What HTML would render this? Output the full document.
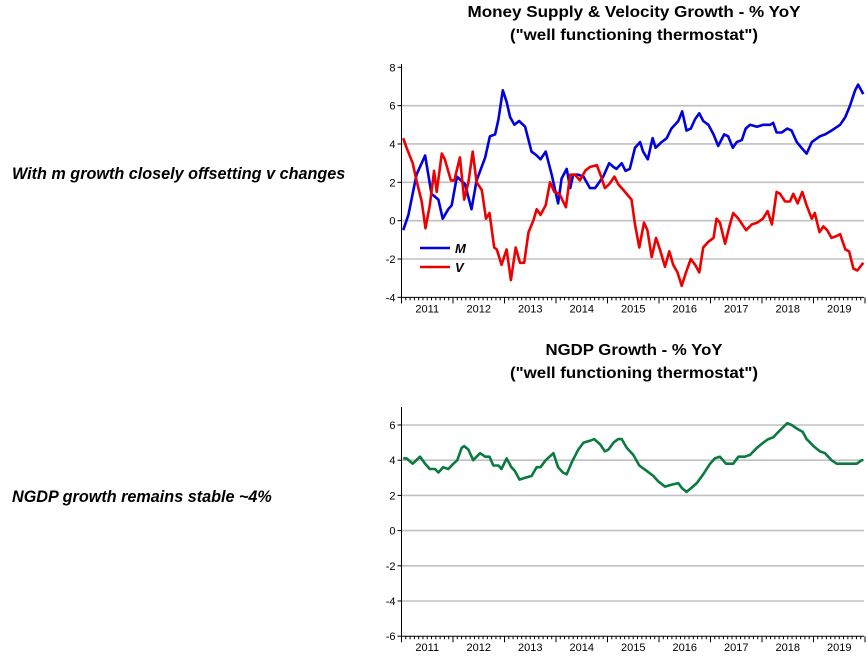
<!DOCTYPE html>
<html><head><meta charset="utf-8">
<style>
body{margin:0;background:#fff;width:868px;height:657px;overflow:hidden;font-family:"Liberation Sans",Arial,sans-serif}
svg{display:block}
</style></head>
<body>
<svg id="svg" width="868" height="657" viewBox="0 0 868 657" xmlns="http://www.w3.org/2000/svg">
<g font-family="Liberation Sans, Arial, sans-serif" font-weight="bold" font-size="15.5" text-anchor="middle" fill="#000">
<text x="634" y="17" textLength="333" lengthAdjust="spacingAndGlyphs">Money Supply &amp; Velocity Growth - % YoY</text>
<text x="634" y="40" textLength="248" lengthAdjust="spacingAndGlyphs">("well functioning thermostat")</text>
<text x="634" y="355" textLength="177" lengthAdjust="spacingAndGlyphs">NGDP Growth - % YoY</text>
<text x="634" y="378" textLength="248" lengthAdjust="spacingAndGlyphs">("well functioning thermostat")</text>
</g>
<g font-family="Liberation Sans, Arial, sans-serif" font-weight="bold" font-style="italic" font-size="16.2" fill="#000">
<text x="12" y="179">With m growth closely offsetting v changes</text>
<text x="12" y="502">NGDP growth remains stable ~4%</text>
</g>
<g id="topChart"></g>
<g id="botChart"></g>
</svg>
<script>
// months since Jan 2011
const mMonths=[0.4,1.6,3.5,5.5,7.0,8.6,9.6,10.9,11.7,12.9,14.8,16.3,17.5,19.5,20.6,21.8,22.6,23.6,24.5,25.3,26.3,27.4,28.8,30.3,31.5,32.4,33.6,35.0,36.5,37.3,38.5,39.3,40.0,41.2,42.4,43.9,45.1,47.0,48.4,49.4,50.1,51.3,52.2,53.2,54.4,55.6,56.3,57.4,58.5,59.2,60.6,61.8,62.9,64.5,65.4,66.4,67.4,68.4,69.4,70.3,71.5,72.7,73.8,75.2,76.1,77.2,78.1,79.3,80.2,81.2,82.8,84.3,85.9,86.6,87.4,88.6,89.9,90.9,92.1,93.2,94.4,95.6,97.5,98.7,100.2,102.2,103.4,104.5,105.7,106.4,107.6];
const mValues=[-0.5,0.3,2.4,3.4,1.4,1.1,0.1,0.6,0.8,2.3,1.9,0.6,2.1,3.3,4.4,4.5,5.3,6.8,6.2,5.4,5.0,5.2,4.9,3.6,3.4,3.2,3.6,2.4,0.9,2.2,2.7,1.7,2.4,2.4,2.3,1.7,1.7,2.3,3.0,2.8,2.7,3.0,2.6,2.7,3.8,4.1,3.6,3.2,4.3,3.8,4.1,4.3,4.8,5.2,5.7,4.7,4.8,5.3,5.6,5.2,5.0,4.5,3.9,4.5,4.4,3.8,4.1,4.2,4.8,5.0,4.9,5.0,5.0,5.1,4.6,4.6,4.8,4.7,4.1,3.8,3.5,4.1,4.4,4.5,4.7,5.0,5.4,6.0,6.8,7.1,6.6];
const vMonths=[0.4,1.2,2.6,3.5,4.7,5.6,6.6,7.6,8.2,9.4,10.1,11.5,12.3,13.6,14.6,15.6,16.6,17.5,18.7,19.7,20.5,21.6,22.2,23.3,24.5,25.5,26.6,27.6,28.6,29.6,30.7,31.5,32.4,33.6,34.6,35.6,36.8,38.3,39.3,40.4,41.6,42.8,43.9,45.5,46.5,47.4,48.4,49.6,50.5,51.7,53.6,54.4,55.4,56.5,57.3,58.3,59.3,60.2,61.4,62.4,63.3,64.3,65.3,66.3,67.4,68.4,69.4,70.3,71.5,72.7,73.4,74.2,75.4,76.4,77.3,78.5,80.3,81.6,82.9,84.2,85.3,86.3,87.4,88.2,89.4,90.5,91.3,92.3,93.4,94.4,95.6,96.3,97.4,98.3,99.2,100.2,101.4,102.2,103.4,104.3,105.3,106.2,107.6];
const vValues=[4.3,3.8,3.0,2.1,1.0,-0.4,0.8,2.6,1.5,3.5,3.2,2.1,2.1,3.3,1.1,2.0,3.6,2.0,1.6,0.1,0.4,-1.4,-1.5,-2.3,-1.5,-3.1,-1.4,-2.2,-2.2,-0.6,0.0,0.6,0.3,0.8,2.0,1.5,1.4,0.7,2.4,2.4,2.1,2.6,2.8,2.9,2.3,1.7,1.9,2.3,1.9,1.6,1.1,-0.2,-1.4,-0.1,-0.5,-1.9,-0.9,-1.5,-2.4,-1.6,-2.3,-2.7,-3.4,-2.7,-2.0,-2.3,-2.7,-1.4,-1.1,-0.9,0.1,-0.1,-1.2,-0.3,0.4,0.1,-0.5,-0.2,-0.1,0.1,0.5,-0.2,1.5,1.4,1.0,1.0,1.4,0.9,1.5,0.8,0.1,0.4,-0.6,-0.3,-0.5,-0.9,-0.8,-0.7,-1.5,-1.6,-2.5,-2.6,-2.2];
const nMonths=[0.4,1.2,2.6,4.3,5.5,6.6,7.8,8.6,9.7,10.9,12.1,13.0,14.0,14.6,15.6,16.7,18.3,19.5,20.5,21.4,22.6,23.3,24.5,25.6,26.4,27.5,28.8,30.3,31.5,32.4,33.6,35.4,36.5,37.6,38.5,39.7,41.2,42.4,43.9,44.9,46.3,47.4,48.2,49.4,50.5,51.3,52.5,54.0,55.4,57.1,58.7,59.8,61.4,62.9,64.5,65.4,66.4,67.4,68.8,70.3,71.9,73.0,74.2,75.6,77.3,78.5,80.0,81.2,82.8,84.3,85.5,86.6,87.8,89.0,89.9,90.9,92.1,93.5,94.4,96.0,97.5,98.7,100.2,101.4,102.6,104.1,105.3,106.1,107.2,107.6];
const nValues=[4.1,4.1,3.8,4.2,3.8,3.5,3.5,3.3,3.6,3.5,3.8,4.0,4.7,4.8,4.6,4.0,4.4,4.2,4.2,3.7,3.7,3.5,4.1,3.6,3.4,2.9,3.0,3.1,3.6,3.6,4.0,4.4,3.6,3.3,3.2,3.9,4.6,5.0,5.1,5.2,4.9,4.5,4.6,5.0,5.2,5.2,4.7,4.3,3.7,3.4,3.1,2.8,2.5,2.6,2.7,2.4,2.2,2.4,2.7,3.2,3.8,4.1,4.2,3.8,3.8,4.2,4.2,4.3,4.7,5.0,5.2,5.3,5.6,5.9,6.1,6.0,5.8,5.6,5.2,4.8,4.5,4.4,4.0,3.8,3.8,3.8,3.8,3.8,4.0,4.0];
const years=["2011","2012","2013","2014","2015","2016","2017","2018","2019"];
const topTicks=[8,6,4,2,0,-2,-4];
const botTicks=[6,4,2,0,-2,-4,-6];

const NS="http://www.w3.org/2000/svg";
function mk(parent,tag,attrs){const e=document.createElementNS(NS,tag);for(const k in attrs)e.setAttribute(k,attrs[k]);parent.appendChild(e);return e;}
const X0=401.5,PXM=51.5/12,XEND=864;
const xs=m=>X0+m*PXM;

function axes(g,yScale,ticks,yTop,yBottomVal,gridVals){
  gridVals.forEach(v=>{
    const l=mk(g,'line',{x1:X0,x2:XEND,y1:yScale(v),y2:yScale(v),stroke:'#c0c0c0','stroke-width':1.6});
    
    
  });
  const yb=yScale(yBottomVal);
  const ya=mk(g,'line',{x1:X0,x2:X0,y1:yTop,y2:yb,stroke:'#000','stroke-width':1});
  
  
  const xa=mk(g,'line',{x1:X0,x2:XEND,y1:yb,y2:yb,stroke:'#000','stroke-width':1});
  
  
  ticks.forEach(v=>{
    const t=mk(g,'line',{x1:X0-4,x2:X0,y1:yScale(v),y2:yScale(v),stroke:'#000'});
    
    
    const tx=mk(g,'text',{x:X0-6,y:yScale(v)+4,'text-anchor':'end','font-size':11,fill:'#000'});
    tx.textContent=v;
    
    
  });
  for(let m=0;m<=108;m++){
    const big=m%12===0;
    const t=mk(g,'line',{x1:xs(m),x2:xs(m),y1:yb,y2:yb+(big?6:3),stroke:'#000'});
    
    
  }
  years.forEach((y,i)=>{
    const tx=mk(g,'text',{x:xs(i*12+6),y:yb+15,'text-anchor':'middle','font-size':11,fill:'#000'});
    tx.textContent=y;
    
    
  });
}
function line(g,ms,vs,ys,color,name){
  const d=ms.map((m,i)=>(i?'L':'M')+xs(m).toFixed(1)+','+ys(vs[i]).toFixed(1)).join('');
  const p=mk(g,'path',{d:d,fill:'none',stroke:color,'stroke-width':2.6,'stroke-linejoin':'round'});
  
  
}
const topG=document.getElementById('topChart'),botG=document.getElementById('botChart');
const yT=v=>67.3+(8-v)*19.17;
axes(topG,yT,topTicks,64,-4,[6,4,2,0,-2]);
line(topG,mMonths,mValues,yT,'#0000e0','series-m');
line(topG,vMonths,vValues,yT,'#ee0000','series-v');
const l1=mk(topG,'line',{x1:420,x2:450,y1:248,y2:248,stroke:'#0000e0','stroke-width':2.6});


const t1=mk(topG,'text',{x:455,y:253,'font-size':13,'font-weight':'bold','font-style':'italic'});
t1.textContent='M';


const l2=mk(topG,'line',{x1:420,x2:450,y1:267,y2:267,stroke:'#ee0000','stroke-width':2.6});


const t2=mk(topG,'text',{x:455,y:272,'font-size':13,'font-weight':'bold','font-style':'italic'});
t2.textContent='V';



const yB=v=>425+(6-v)*17.6;
axes(botG,yB,botTicks,407,-6,[6,4,2,0,-2,-4]);
line(botG,nMonths,nValues,yB,'#0a7a40','series-ngdp');
</script>
</body></html>
